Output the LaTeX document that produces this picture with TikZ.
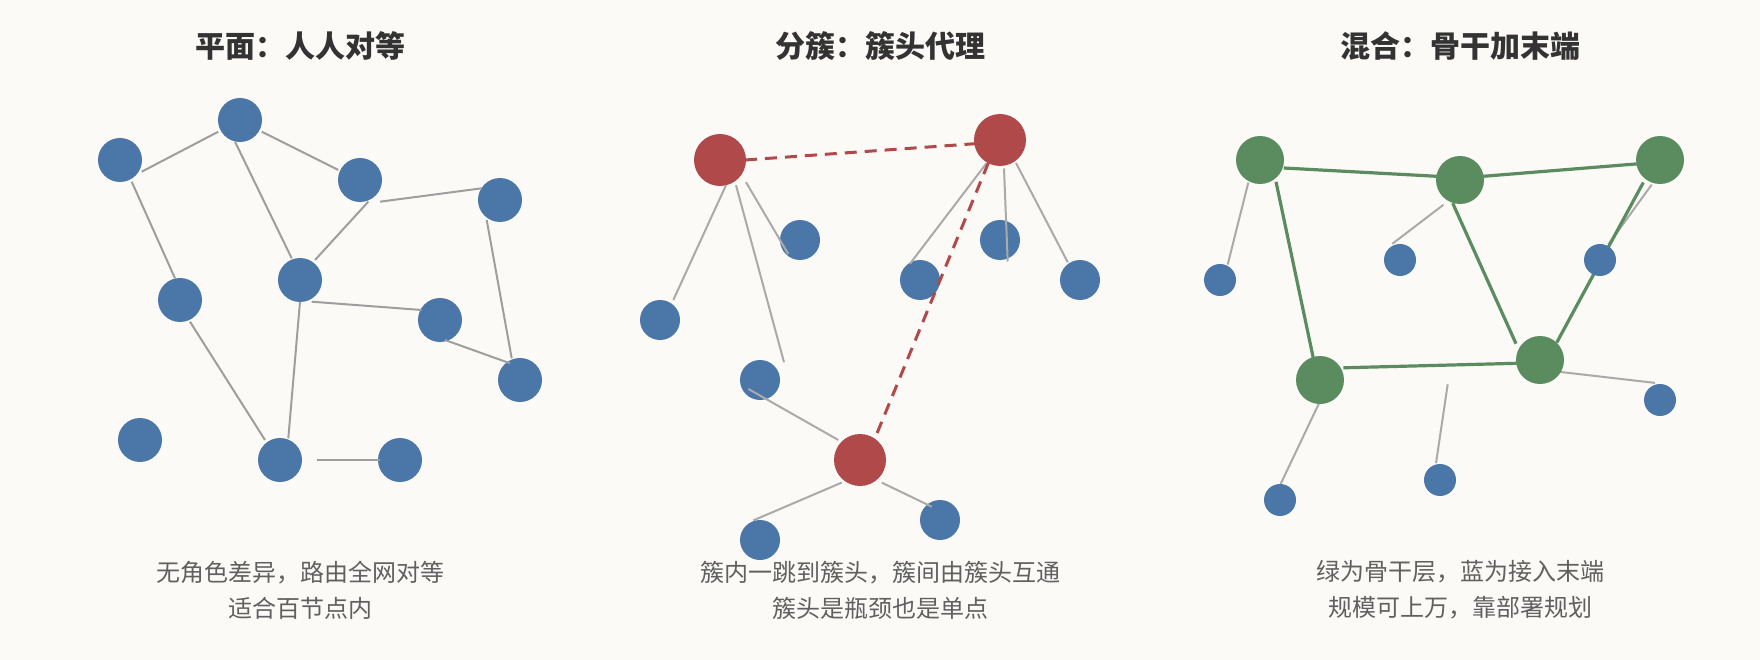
\documentclass[tikz,border=0pt]{standalone}
\usepackage{fontspec}
\usetikzlibrary{calc}
\newfontfamily\cjk{Noto Sans CJK SC}
\definecolor{bgc}{HTML}{FBFAF7}
\definecolor{bluec}{HTML}{4A76A8}
\definecolor{redc}{HTML}{B04A4A}
\definecolor{greenc}{HTML}{5B8C5F}
\definecolor{edgec}{HTML}{9E9E9E}
\definecolor{edgelc}{HTML}{AAAAAA}
\definecolor{titlec}{HTML}{333333}
\definecolor{capc}{HTML}{606060}
\tikzset{
  bnode/.style={circle,fill=bluec,inner sep=0,minimum size=44pt},
  bsmall/.style={circle,fill=bluec,inner sep=0,minimum size=40pt},
  btiny/.style={circle,fill=bluec,inner sep=0,minimum size=32pt},
  rnode/.style={circle,fill=redc,inner sep=0,minimum size=52pt},
  gnode/.style={circle,fill=greenc,inner sep=0,minimum size=48pt},
  gedge/.style={draw=edgec,line width=2pt},
  ledge/.style={draw=edgelc,line width=2pt},
  redge/.style={draw=redc,line width=3pt,dash pattern=on 12pt off 8pt},
  bbedge/.style={draw=greenc,line width=3.2pt},
  ttl/.style={font=\cjk\bfseries\fontsize{30}{36}\selectfont,text=titlec},
  captxt/.style={font=\cjk\fontsize{24}{36}\selectfont,text=capc,align=center}
}
\begin{document}
\begin{tikzpicture}[x=1pt,y=-1pt]
\fill[bgc] (0,0) rectangle (1760,660);
\useasboundingbox (0,0) rectangle (1760,660);

% ---------- Panel 1 ----------
\node[ttl] (t1) at (300,46) {平面：人人对等};
\node[bnode] (A) at (120,160) {};
\node[bnode] (B) at (240,120) {};
\node[bnode] (C) at (360,180) {};
\node[bnode] (D) at (500,200) {};
\node[bnode] (E) at (180,300) {};
\node[bnode] (F) at (300,280) {};
\node[bnode] (G) at (440,320) {};
\node[bnode] (H) at (520,380) {};
\node[bnode] (I) at (140,440) {};
\node[bnode] (J) at (280,460) {};
\node[bnode] (K) at (400,460) {};
\draw[gedge] ($(A)+(21.7,11.7)$) -- ($(B)+(-21.7,11.7)$);
\draw[gedge] ($(B)+(21.7,11.7)$) -- ($(C)+(-21.7,-10)$);
\draw[gedge] ($(B)+(-5,21.7)$) -- ($(F)+(-8.3,-21.7)$);
\draw[gedge] ($(A)+(11.7,21.7)$) -- ($(E)+(-5,-21.7)$);
\draw[gedge] ($(C)+(8.3,21.7)$) -- ($(F)+(15,-20)$);
\draw[gedge] ($(C)+(20,21.7)$) -- ($(D)+(-18.3,-11.7)$);
\draw[gedge] ($(D)+(-13.3,20)$) -- ($(H)+(-8.3,-21.7)$);
\draw[gedge] ($(F)+(11.7,21.7)$) -- ($(G)+(-18.3,-10)$);
\draw[gedge] ($(G)+(5,20)$) -- ($(H)+(-10,-16.7)$);
\draw[gedge] ($(F)+(0,21.7)$) -- ($(J)+(8.3,-21.7)$);
\draw[gedge] ($(E)+(10,21.7)$) -- ($(J)+(-15,-20)$);
\draw[gedge] ($(J)+(36.7,0)$) -- ($(K)+(-20,0)$);
\node[captxt] (c1) at (300,590) {无角色差异，路由全网对等\\适合百节点内};

% ---------- Panel 2 ----------
\node[ttl] (t2) at (880,46) {分簇：簇头代理};
\node[rnode] (R1) at (720,160) {};
\node[rnode] (R2) at (1000,140) {};
\node[rnode] (R3) at (860,460) {};
\node[bsmall] (p1) at (800,240) {};
\node[bsmall] (p2) at (660,320) {};
\node[bsmall] (p3) at (760,380) {};
\node[bsmall] (p4) at (920,280) {};
\node[bsmall] (p5) at (1000,240) {};
\node[bsmall] (p6) at (1080,280) {};
\node[bsmall] (p7) at (760,540) {};
\node[bsmall] (p8) at (940,520) {};
\draw[ledge] ($(R1)+(6,25.2)$) -- ($(p2)+(13.3,-20)$);
\draw[ledge] ($(R1)+(16,25.2)$) -- ($(p3)+(24,-17.8)$);
\draw[ledge] ($(R1)+(26,22.2)$) -- ($(p1)+(-11.7,14.1)$);
\draw[ledge] ($(R2)+(-13.3,23)$) -- ($(p4)+(-10,-16.3)$);
\draw[ledge] ($(R2)+(4,28.5)$) -- ($(p5)+(7.7,21.5)$);
\draw[ledge] ($(R2)+(16,23)$) -- ($(p6)+(-12.3,-17.8)$);
\draw[ledge] ($(R3)+(-21.7,-20)$) -- ($(p3)+(-11.7,8.9)$);
\draw[ledge] ($(R3)+(-18.3,22.6)$) -- ($(p7)+(-6.7,-19.6)$);
\draw[ledge] ($(R3)+(21.7,22.6)$) -- ($(p8)+(-8.3,-13.3)$);
\draw[redge] ($(R1)+(25,0)$) -- ($(R2)+(-25,3.7)$);
\draw[redge] ($(R2)+(-11.7,23)$) -- ($(R3)+(16.7,-26)$);
\node[captxt] (c2) at (880,590) {簇内一跳到簇头，簇间由簇头互通\\簇头是瓶颈也是单点};

% ---------- Panel 3 ----------
\node[ttl] (t3) at (1460,46) {混合：骨干加末端};
\coordinate (G1) at (1260,160);
\coordinate (G2) at (1460,180);
\coordinate (G3) at (1660,160);
\coordinate (G4) at (1320,380);
\coordinate (G5) at (1540,360);
\coordinate (q1) at (1220,280);
\coordinate (q2) at (1400,260);
\coordinate (q3) at (1600,260);
\coordinate (q4) at (1280,500);
\coordinate (q5) at (1440,480);
\coordinate (q6) at (1660,400);
\coordinate (q5end) at (1447.7,384.3);
\draw[ledge] ($(G1)+(-11.7,22.5)$) -- ($(q1)+(7.7,-15.5)$);
\draw[ledge] ($(G2)+(-16.7,24.9)$) -- ($(q2)+(-7.7,-16.2)$);
\draw[ledge] ($(G3)+(-8.3,24.6)$) -- ($(q3)+(8.3,-15.5)$);
\draw[ledge] ($(G4)+(0,21.2)$) -- ($(q4)+(0.7,-16.2)$);
\draw[ledge] ($(q5)+(-4,-16.8)$) -- (q5end);
\draw[ledge] ($(G5)+(20,11.9)$) -- ($(q6)+(-5,-17.1)$);
\draw[bbedge] ($(G1)+(23.7,8)$) -- ($(G2)+(-23.3,-3.7)$);
\draw[bbedge] ($(G2)+(23.3,-3.7)$) -- ($(G3)+(-23.3,3.9)$);
\draw[bbedge] ($(G1)+(16,21.8)$) -- ($(G4)+(-6.7,-21.9)$);
\draw[bbedge] ($(G4)+(23.3,-12.2)$) -- ($(G5)+(-23.3,3.3)$);
\draw[bbedge] ($(G2)+(-7.3,23.2)$) -- ($(G5)+(-24,-16.3)$);
\draw[bbedge] ($(G3)+(-16.7,22.5)$) -- ($(G5)+(16.7,-17.4)$);
\node[gnode] (nG1) at (G1) {};
\node[gnode] (nG2) at (G2) {};
\node[gnode] (nG3) at (G3) {};
\node[gnode] (nG4) at (G4) {};
\node[gnode] (nG5) at (G5) {};
\node[btiny] (nq1) at (q1) {};
\node[btiny] (nq2) at (q2) {};
\node[btiny] (nq3) at (q3) {};
\node[btiny] (nq4) at (q4) {};
\node[btiny] (nq5) at (q5) {};
\node[btiny] (nq6) at (q6) {};
\node[captxt] (c3) at (1460,590) {绿为骨干层，蓝为接入末端\\规模可上万，靠部署规划};
\end{tikzpicture}
\end{document}
